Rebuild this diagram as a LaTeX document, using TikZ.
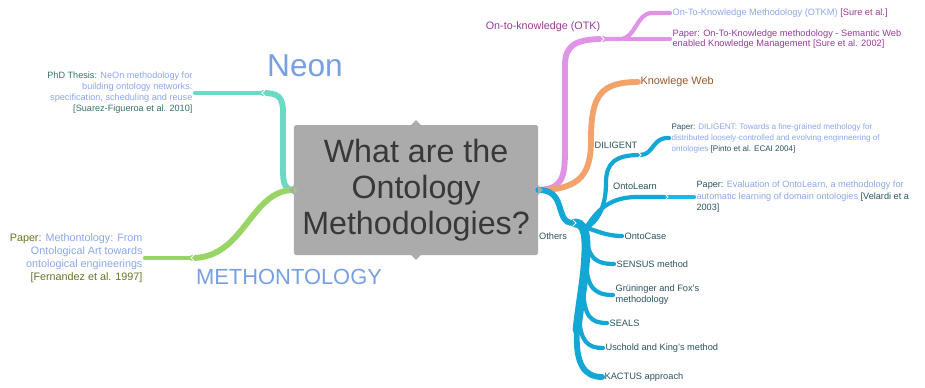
\documentclass[tikz,border=0pt]{standalone}
\usepackage{fontspec}
\setmainfont{Liberation Sans}
\usepackage{tikz}

\begin{document}
\begin{tikzpicture}[x=0.03cm,y=-0.03cm,
  branch/.style={line width=5pt,line cap=round},
  twig/.style={line width=3.6pt,line cap=round},
  chev/.pic={\draw[white,line width=0.7pt] (-2,-3) -- (1,0) -- (-2,3);},
  note/.style={inner sep=2pt,anchor=west,align=left},
  lbl/.style={inner sep=2pt,text=clvoth,font=\fontsize{7.9}{9.4}\selectfont}]
\definecolor{cfv0}{rgb}{0.671,0.671,0.671}
\definecolor{clv0}{rgb}{0.22,0.22,0.22}
\definecolor{cvneon}{rgb}{0.42,0.855,0.77}
\definecolor{cvmeth}{rgb}{0.6,0.83,0.4}
\definecolor{cvotk}{rgb}{0.875,0.58,0.9}
\definecolor{cvweb}{rgb}{0.945,0.64,0.42}
\definecolor{cvoth}{rgb}{0.075,0.655,0.835}
\definecolor{cvoth2}{rgb}{0.1,0.72,0.9}
\definecolor{clbig}{rgb}{0.47,0.625,0.9}
\definecolor{ctitle}{rgb}{0.545,0.65,0.93}
\definecolor{clvneon}{rgb}{0.2,0.45,0.4}
\definecolor{clvmeth}{rgb}{0.4,0.45,0.15}
\definecolor{clvotk}{rgb}{0.6,0.23,0.6}
\definecolor{clvweb}{rgb}{0.62,0.34,0.16}
\definecolor{clvoth}{rgb}{0.17,0.32,0.38}
\useasboundingbox (0,0) rectangle (925,387);
%
\node[fill=cfv0,text=clv0,rounded corners=1.5pt,minimum width=7.32cm,minimum height=3.9cm,inner sep=0pt,align=center,font=\fontsize{27.5}{31}\selectfont] (v0) at (416,190) {What are the\\Ontology\\Methodologies?};
\node[text=clbig,font=\fontsize{27}{31}\selectfont] (vneon) at (305,66) {Neon};
\node[text=clbig,font=\fontsize{18.7}{22}\selectfont] (vmeth) at (289,277) {METHONTOLOGY};
\node[inner sep=2pt,anchor=east,align=right,text=clvneon,font=\fontsize{7.8}{9.4}\selectfont] (vphd) at (195,93) {PhD Thesis: \textcolor{ctitle}{NeOn methodology for}\\\textcolor{ctitle}{building ontology networks:}\\\textcolor{ctitle}{specification, scheduling and reuse}\\{}[Suarez-Figueroa et al. 2010]};
\node[inner sep=2pt,anchor=east,align=right,text=clvmeth,font=\fontsize{9.2}{11}\selectfont] (vmpap) at (145,258) {Paper: \textcolor{ctitle}{Methontology: From}\\\textcolor{ctitle}{Ontological Art towards}\\\textcolor{ctitle}{ontological engineerings}\\{}[Fernandez et al. 1997]};
\node[inner sep=2pt,text=clvotk,font=\fontsize{9.2}{11}\selectfont] (votk) at (543,27) {On-to-knowledge (OTK)};
\node[note,text=clvotk,font=\fontsize{7.9}{8.6}\selectfont] (votkm) at (670,13) {\textcolor{ctitle}{On-To-Knowledge Methodology (OTKM)} [Sure et al.]};
\node[note,text=clvotk,font=\fontsize{7.9}{8.6}\selectfont] (votkp) at (670,39) {Paper: On-To-Knowledge methodology - Semantic Web\\enabled Knowledge Management [Sure et al. 2002]};
\node[note,text=clvweb,font=\fontsize{9.3}{11}\selectfont] (vweb) at (638,82) {Knowlege Web};
\node[lbl] (vdil) at (616,145) {DILIGENT};
\node[note,text=clvoth,font=\fontsize{6.9}{9.4}\selectfont] (vdilp) at (669,138) {Paper: \textcolor{ctitle}{DILIGENT: Towards a fine-grained methology for}\\\textcolor{ctitle}{distributed loosely-controlled and evolving enginneering of}\\\textcolor{ctitle}{ontologies} [Pinto et al. ECAI 2004]};
\node[lbl] (vlearn) at (635,186) {OntoLearn};
\node[note,text=clvoth,font=\fontsize{7.8}{9.8}\selectfont] (vlearnp) at (694,197) {Paper: \textcolor{ctitle}{Evaluation of OntoLearn, a methodology for}\\\textcolor{ctitle}{automatic learning of domain ontologies} [Velardi et a\\2003]};
\node[lbl] (voth) at (553,236) {Others};
\node[lbl,note] (vcase) at (622,236) {OntoCase};
\node[lbl,note] (vsens) at (614,264) {SENSUS method};
\node[lbl,note] (vgrun) at (613,295) {Grüninger and Fox's\\methodology};
\node[lbl,note] (vseals) at (607,323) {SEALS};
\node[lbl,note] (vusch) at (603,348) {Uschold and King's method};
\node[lbl,note] (vkact) at (602,377) {KACTUS approach};
%
\coordinate (nj) at (263,93);
\coordinate (mj) at (192,258);
\coordinate (tj) at (603,39);
\coordinate (hj) at (575,223);
\coordinate (hub) at (586,228);
\coordinate (dj) at (640,155);
\coordinate (lj) at (667,197);
\coordinate (t2) at (577,330);
\coordinate (b1) at (587,240);
\coordinate (b2) at (586,262);
\coordinate (b3) at (583,288);
\coordinate (b4) at (579,315);
%
\draw[branch,cvneon] (v0.west) .. controls (282,189) and (283,180) .. (283,160) -- (283,112) .. controls (283,97) and (278,93) .. (nj);
\draw[twig,cvneon] (nj) -- (vphd.east);
\draw[branch,cvmeth] (v0.west) .. controls (250,190) and (245,258) .. (mj);
\draw[twig,cvmeth] (mj) -- (vmpap.east);
%
\draw[branch,cvotk] (v0.east) .. controls (562,189) and (565,178) .. (565,150) -- (565,65) .. controls (565,46) and (575,39) .. (tj);
\draw[twig,cvotk] (tj) -- (votkp.west);
\draw[twig,cvotk] (tj) -- (620,39) .. controls (636,39) and (636,13) .. (652,13) -- (votkm.west);
\draw[branch,cvweb] (v0.east) .. controls (582,190) and (591,172) .. (591,140) .. controls (591,96) and (600,82) .. (vweb.west);
%
\draw[branch,cvoth] (v0.east) .. controls (558,190) and (558,204) .. (562,214) .. controls (565,222) and (568,223) .. (hj);
\draw[cvoth,line width=7.5pt,line cap=round] (hj) .. controls (582,223) and (586,230) .. (586,245) .. controls (586,275) and (580,300) .. (t2);
\draw[cvoth,line width=5pt,line cap=round] (t2) .. controls (575,365) and (585,377) .. (vkact.west);
\draw[twig,cvoth] (hub) .. controls (600,220) and (606,203) .. (606,183) .. controls (606,163) and (615,155) .. (dj);
\draw[twig,cvoth] (dj) .. controls (654,155) and (652,137) .. (vdilp.west);
\draw[twig,cvoth] (hub) .. controls (598,208) and (612,197) .. (637,197) -- (lj);
\draw[twig,cvoth2] (lj) -- (vlearnp.west);
\draw[twig,cvoth] (hub) .. controls (596,230) and (605,236) .. (vcase.west);
\draw[twig,cvoth] (b1) .. controls (589,258) and (596,264) .. (vsens.west);
\draw[twig,cvoth] (b2) .. controls (587,288) and (595,295) .. (vgrun.west);
\draw[twig,cvoth] (b3) .. controls (584,317) and (591,323) .. (vseals.west);
\draw[twig,cvoth] (b4) .. controls (580,342) and (588,348) .. (vusch.west);
%
\pic[xscale=-1] at (nj) {chev};
\pic[xscale=-1] at (mj) {chev};
\pic at (tj) {chev};
\pic at (hj) {chev};
\pic at (dj) {chev};
\pic at (lj) {chev};
\fill[cfv0] ([xshift=-4pt]v0.north) -- ([yshift=4pt]v0.north) -- ([xshift=4pt]v0.north) -- cycle;
\fill[cfv0] ([xshift=-4pt]v0.south) -- ([yshift=-4pt]v0.south) -- ([xshift=4pt]v0.south) -- cycle;
\fill[cfv0] ([yshift=-4pt]v0.west) -- ([xshift=-4pt]v0.west) -- ([yshift=4pt]v0.west) -- cycle;
\fill[cfv0] ([yshift=-4pt]v0.east) -- ([xshift=4pt]v0.east) -- ([yshift=4pt]v0.east) -- cycle;
%
\end{tikzpicture}
\end{document}
